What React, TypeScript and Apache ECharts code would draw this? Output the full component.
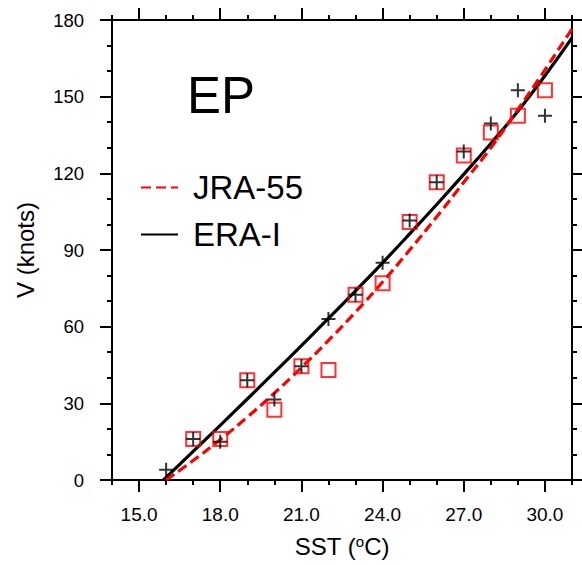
import React, { useEffect, useRef } from "react";
import * as echarts from "echarts";

// Binned points (SST in °C, V in knots)
const sstBins = [16, 17, 18, 19, 20, 21, 22, 23, 24, 25, 26, 27, 28, 29, 30];
const eraPoints = [4, 16, 15, 39, 31.5, 44.5, 63, 72.5, 85, 101.5, 116.5, 128.5, 139.5, 152.5, 142.5];
const jraPoints = [null, 16, 16, 39, 27.5, 44.5, 43, 72.5, 77, 101, 116.5, 127, 136, 142.5, 152.5];

// Fitted curves
const fitSst = [15.9, 16, 17, 18, 19, 20, 21, 22, 23, 24, 25, 26, 27, 28, 29, 30, 31];
const eraFit = [0, 1, 11.2, 21.4, 31.7, 42.1, 52.6, 63.2, 74.0, 85.0, 96.3, 107.8, 119.6, 131.7, 144.3, 158.2, 173];
const jraFit = [null, 0, 7.6, 15.8, 24.6, 34, 44, 54.6, 65.7, 77.5, 90, 103, 116.5, 130, 145, 160.5, 176.5];

const xMajorTicks = [15, 18, 21, 24, 27, 30];
const yTickInterval = 30;

const FONT = "'Liberation Sans', Arial, Helvetica, sans-serif";

function pairs(xs: number[], ys: (number | null)[]) {
  const out: [number, number][] = [];
  xs.forEach((x, i) => {
    const y = ys[i];
    if (y !== null && y !== undefined) out.push([x, y]);
  });
  return out;
}

export default function App() {
  const ref = useRef<HTMLDivElement>(null);

  useEffect(() => {
    document.body.style.margin = "0";
    if (!ref.current) return;
    const chart = echarts.init(ref.current, undefined, { renderer: "svg" });

    const axisLine = { show: true, lineStyle: { color: "#000", width: 2 } };
    const minorX = (position: "top" | "bottom") => ({
      type: "value",
      position,
      min: 14,
      max: 31,
      interval: 1,
      axisLine,
      axisTick: { show: true, inside: false, length: 5, lineStyle: { color: "#000", width: 2 } },
      axisLabel: { show: false },
      splitLine: { show: false },
    });
    const majorX = (position: "top" | "bottom", labels: boolean) => ({
      type: "value",
      position,
      min: 14,
      max: 31,
      axisLine: { show: false },
      axisTick: {
        show: true,
        inside: false,
        length: 12,
        customValues: xMajorTicks,
        lineStyle: { color: "#000", width: 2 },
      },
      axisLabel: labels
        ? {
            show: true,
            customValues: xMajorTicks,
            formatter: (v: number) => v.toFixed(1),
            fontSize: 19,
            fontFamily: FONT,
            color: "#000",
            margin: 25,
          }
        : { show: false },
      splitLine: { show: false },
      ...(labels
        ? {
            name: "{a|SST (}{s|o}{a|C)}",
            nameLocation: "middle",
            nameGap: 54,
            nameTextStyle: {
              rich: {
                a: { fontSize: 24, fontFamily: FONT, color: "#000" },
                s: { fontSize: 15, fontFamily: FONT, color: "#000", verticalAlign: "top" },
              },
            },
          }
        : {}),
    });
    const yAxis = (position: "left" | "right", labels: boolean) => ({
      type: "value",
      position,
      min: 0,
      max: 180,
      interval: yTickInterval,
      axisLine,
      axisTick: { show: true, inside: false, length: 12, lineStyle: { color: "#000", width: 2 } },
      minorTick: { show: true, splitNumber: 3, length: 5, lineStyle: { color: "#000", width: 2 } },
      axisLabel: labels
        ? { show: true, fontSize: 18.5, fontFamily: FONT, color: "#000", margin: 28 }
        : { show: false },
      splitLine: { show: false },
      minorSplitLine: { show: false },
      ...(labels
        ? {
            name: "V (knots)",
            nameLocation: "middle",
            nameGap: 75,
            nameTextStyle: { fontSize: 24, fontFamily: FONT, color: "#000" },
          }
        : {}),
    });

    chart.setOption({
      animation: false,
      backgroundColor: "#fff",
      grid: { left: 112, top: 20, right: 10, bottom: 85, containLabel: false },
      xAxis: [minorX("bottom"), majorX("bottom", true), minorX("top"), majorX("top", false)],
      yAxis: [yAxis("left", true), yAxis("right", false)],
      legend: {
        data: ["JRA-55", "ERA-I"],
        orient: "vertical",
        left: 140,
        top: 171,
        padding: 0,
        itemWidth: 37,
        itemHeight: 14,
        itemGap: 14,
        itemStyle: { opacity: 0 },
        textStyle: { fontSize: 33, fontFamily: FONT, color: "#000", padding: [0, 0, 0, 10] },
      },
      graphic: [
        {
          type: "text",
          left: 187,
          top: 70,
          style: { text: "EP", fontSize: 51, fontFamily: FONT, fill: "#000" },
        },
      ],
      series: [
        {
          name: "ERA-I",
          type: "line",
          xAxisIndex: 0,
          yAxisIndex: 0,
          data: pairs(fitSst, eraFit),
          showSymbol: false,
          symbol: "none",
          smooth: true,
          lineStyle: { color: "#000", width: 3.2 },
          itemStyle: { color: "#000" },
          z: 2,
        },
        {
          name: "JRA-55",
          type: "line",
          xAxisIndex: 0,
          yAxisIndex: 0,
          data: pairs(fitSst, jraFit),
          showSymbol: false,
          symbol: "none",
          smooth: true,
          lineStyle: { color: "#ff0000", width: 3.2, type: [10, 5] },
          itemStyle: { color: "#ff0000" },
          z: 3,
        },
        {
          name: "JRA-55 bins",
          type: "scatter",
          xAxisIndex: 0,
          yAxisIndex: 0,
          data: pairs(sstBins, jraPoints),
          symbol: "rect",
          symbolSize: 14,
          itemStyle: { color: "rgba(0,0,0,0)", borderColor: "#ff0000", borderWidth: 2 },
          z: 4,
        },
        {
          name: "ERA-I bins",
          type: "scatter",
          xAxisIndex: 0,
          yAxisIndex: 0,
          data: pairs(sstBins, eraPoints),
          symbol: "path://M7,0 L7,14 M0,7 L14,7",
          symbolSize: 14,
          itemStyle: { color: "rgba(0,0,0,0)", borderColor: "#000", borderWidth: 2 },
          z: 5,
        },
      ],
    });

    return () => chart.dispose();
  }, []);

  return <div ref={ref} style={{ width: 582, height: 565 }} />;
}
